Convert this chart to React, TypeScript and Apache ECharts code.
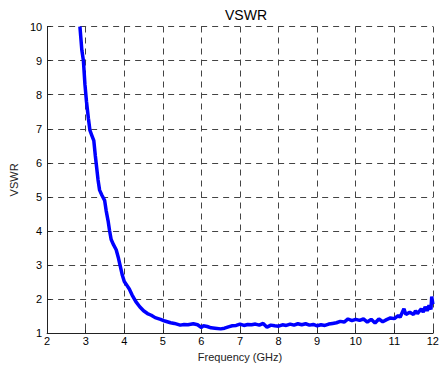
import React, { useEffect, useRef } from "react";
import * as echarts from "echarts";

const freqGHz = [
  2.85, 2.9, 2.94, 2.98, 3.02, 3.07, 3.11, 3.16, 3.21, 3.25, 3.28, 3.32, 3.36, 3.42, 3.49,
  3.53, 3.58, 3.62, 3.66, 3.72, 3.79, 3.85, 3.9, 3.95, 4.0, 4.06, 4.13, 4.2, 4.3, 4.4,
  4.5, 4.6, 4.7, 4.8, 4.94, 5.05, 5.2, 5.3, 5.45, 5.55, 5.65, 5.79, 5.9, 6.0, 6.05,
  6.15, 6.25, 6.35, 6.5, 6.6, 6.7, 6.8, 6.9, 7.0, 7.1, 7.2, 7.3, 7.4, 7.5, 7.6,
  7.7, 7.8, 7.9, 8.0, 8.1, 8.2, 8.3, 8.4, 8.5, 8.6, 8.7, 8.8, 8.9, 9.0, 9.1,
  9.2, 9.3, 9.4, 9.5, 9.6, 9.7, 9.8, 9.9, 10.0, 10.1, 10.2, 10.3, 10.4, 10.5, 10.6,
  10.7, 10.8, 10.9, 11.0, 11.1, 11.15, 11.25, 11.3, 11.4, 11.5, 11.55, 11.6, 11.7, 11.75, 11.8,
  11.85, 11.9, 11.95, 11.97, 12.0,
];
const vswr = [
  10.0, 9.3, 9.0, 8.3, 7.8, 7.3, 6.95, 6.8, 6.65, 6.2, 5.9, 5.5, 5.2, 5.05, 4.9,
  4.6, 4.3, 4.0, 3.75, 3.6, 3.45, 3.2, 2.95, 2.7, 2.52, 2.42, 2.3, 2.13, 1.93, 1.78,
  1.66, 1.58, 1.53, 1.46, 1.41, 1.36, 1.31, 1.29, 1.24, 1.26, 1.25, 1.28, 1.25, 1.17, 1.22,
  1.2, 1.16, 1.15, 1.13, 1.15, 1.19, 1.22, 1.23, 1.27, 1.23, 1.26, 1.25, 1.27, 1.24, 1.29,
  1.18, 1.24, 1.22, 1.21, 1.25, 1.23, 1.27, 1.24, 1.28, 1.25, 1.28, 1.24, 1.26, 1.22, 1.25,
  1.23, 1.27, 1.29, 1.31, 1.35, 1.33, 1.42, 1.37, 1.41, 1.38, 1.42, 1.33, 1.41, 1.3, 1.42,
  1.34, 1.4, 1.45, 1.43, 1.52, 1.47, 1.72, 1.55, 1.62, 1.55, 1.66, 1.58, 1.72, 1.62, 1.78,
  1.66, 1.82, 1.7, 2.08, 1.85,
];

const FONT = "'Liberation Sans', Arial, sans-serif";

export default function App() {
  const ref = useRef<HTMLDivElement>(null);
  useEffect(() => {
    if (!ref.current) return;
    const chart = echarts.init(ref.current, undefined, { renderer: "svg" });
    const gridLine = { show: true, lineStyle: { color: "#444", type: [6, 5] as any, width: 1 } };
    chart.setOption({
      animation: false,
      backgroundColor: "#fff",
      title: {
        text: "VSWR",
        left: 241,
        textAlign: "center",
        top: 3,
        textStyle: { fontFamily: FONT, fontSize: 14, fontWeight: "normal", color: "#000" },
      },
      grid: { left: 45, right: 5.5, top: 26.5, bottom: 38.7, containLabel: false },
      xAxis: {
        type: "value",
        min: 2,
        max: 12,
        interval: 1,
        name: "Frequency (GHz)",
        nameLocation: "middle",
        nameGap: 16,
        nameTextStyle: { fontFamily: FONT, fontSize: 11, color: "#222" },
        axisLine: { show: true, onZero: false, lineStyle: { color: "#222", width: 1 } },
        axisTick: { show: true, inside: true, length: 4, lineStyle: { color: "#222" } },
        axisLabel: { fontFamily: FONT, fontSize: 11, color: "#000", margin: 2 },
        splitLine: gridLine,
      },
      yAxis: {
        type: "value",
        min: 1,
        max: 10,
        interval: 1,
        name: "VSWR",
        nameLocation: "middle",
        nameGap: 28,
        nameTextStyle: { fontFamily: FONT, fontSize: 11, color: "#222" },
        axisLine: { show: true, onZero: false, lineStyle: { color: "#222", width: 1 } },
        axisTick: { show: true, inside: true, length: 4, lineStyle: { color: "#222" } },
        axisLabel: { fontFamily: FONT, fontSize: 11, color: "#000", margin: 5 },
        splitLine: gridLine,
      },
      series: [
        {
          type: "line",
          data: freqGHz.map((f, i) => [f, vswr[i]]),
          showSymbol: false,
          symbol: "none",
          lineStyle: { color: "#0000ff", width: 3.5 },
          clip: true,
        },
      ],
    });
    return () => chart.dispose();
  }, []);
  return (
    <div
      ref={ref}
      style={{ position: "fixed", left: 0, top: 0, width: 442, height: 372, background: "#fff" }}
    />
  );
}
